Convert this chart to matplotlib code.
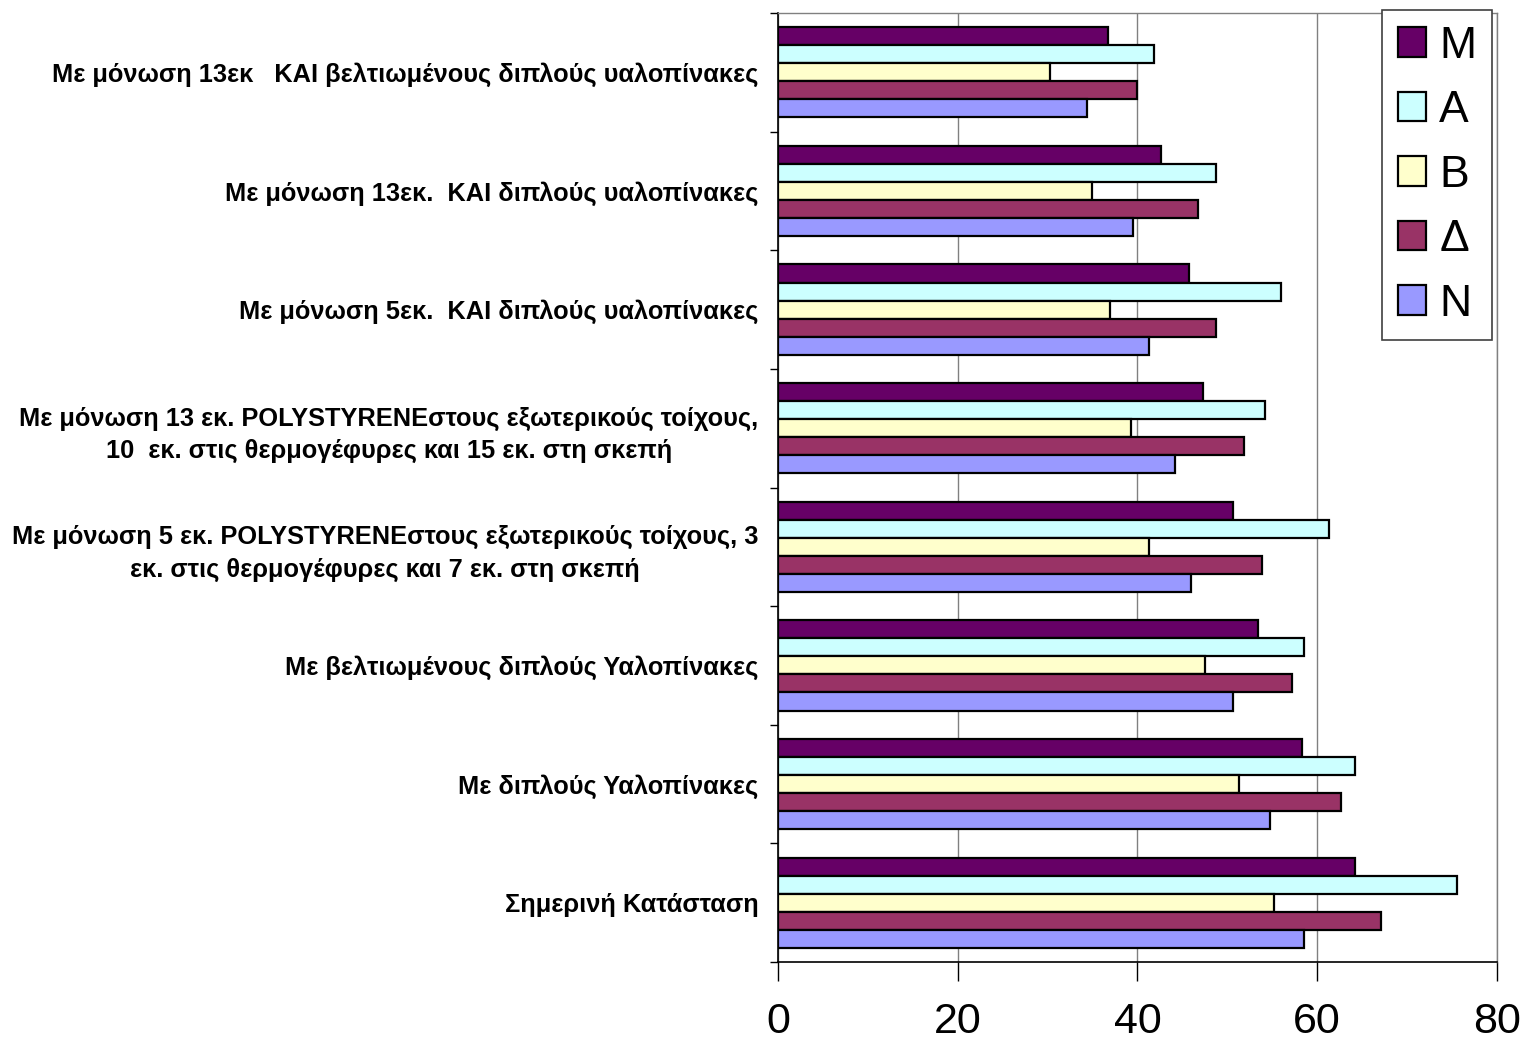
import matplotlib
matplotlib.use("Agg")
import matplotlib.pyplot as plt
from matplotlib.patches import Patch
import numpy as np

# Scenarios, listed top to bottom as they appear on the chart
categories = [
    "Με μόνωση 13εκ   ΚΑΙ βελτιωμένους διπλούς υαλοπίνακες",
    "Με μόνωση 13εκ.  ΚΑΙ διπλούς υαλοπίνακες",
    "Με μόνωση 5εκ.  ΚΑΙ διπλούς υαλοπίνακες",
    "Με μόνωση 13 εκ. POLYSTYRENEστους εξωτερικούς τοίχους,\n10  εκ. στις θερμογέφυρες και 15 εκ. στη σκεπή",
    "Με μόνωση 5 εκ. POLYSTYRENEστους εξωτερικούς τοίχους, 3\nεκ. στις θερμογέφυρες και 7 εκ. στη σκεπή",
    "Με βελτιωμένους διπλούς Υαλοπίνακες",
    "Με διπλούς Υαλοπίνακες",
    "Σημερινή Κατάσταση",
]

series_names = ["M", "A", "B", "Δ", "N"]

M_vals = [36.7, 42.6, 45.7, 47.3, 50.6, 53.4, 58.3, 64.2]
A_vals = [41.8, 48.7, 56.0, 54.2, 61.3, 58.5, 64.2, 75.6]
B_vals = [30.3, 34.9, 36.9, 39.3, 41.3, 47.5, 51.3, 55.2]
D_vals = [40.0, 46.7, 48.7, 51.8, 53.8, 57.2, 62.6, 67.1]
N_vals = [34.4, 39.5, 41.3, 44.2, 45.9, 50.6, 54.7, 58.5]

series_values = [M_vals, A_vals, B_vals, D_vals, N_vals]
colors = ["#660066", "#CCFFFF", "#FFFFCC", "#993366", "#9999FF"]

x_ticks = [0, 20, 40, 60, 80]

FAM = ["Liberation Sans", "DejaVu Sans"]

fig = plt.figure(figsize=(15.26, 10.44), dpi=100)
ax = fig.add_axes([778 / 1526, 1 - 962 / 1044, (1497 - 778) / 1526, (962 - 13) / 1044])

n_cat = len(categories)
n_ser = len(series_names)
bar_h = 0.76 / n_ser
centers = np.arange(n_cat)  # 0 at top after inversion

for i, (name, vals, col) in enumerate(zip(series_names, series_values, colors)):
    offs = -0.38 + bar_h * (i + 0.5)
    ax.barh(centers + offs, vals, height=bar_h, color=col,
            edgecolor="black", linewidth=1.6, label=name, zorder=3)

ax.set_ylim(n_cat - 0.5, -0.5)
ax.set_xlim(0, 80)

# vertical gridlines
ax.set_xticks(x_ticks)
ax.xaxis.grid(True, color="#808080", linewidth=1.0, zorder=0)
ax.yaxis.grid(False)

# category boundaries as major ticks, names as minor tick labels
ax.set_yticks(np.arange(-0.5, n_cat, 1.0))
ax.set_yticklabels([])
ax.tick_params(axis="y", which="major", direction="out", length=6, width=1.0, color="black")
ax.set_yticks(centers, minor=True)
ax.set_yticklabels(categories, minor=True, fontsize=18.3, fontweight="bold",
                   family=FAM, ha="right", multialignment="center",
                   linespacing=1.45)
ax.tick_params(axis="y", which="minor", length=0, pad=14)

ax.set_xticklabels([str(t) for t in x_ticks], fontsize=31, family=FAM)
ax.tick_params(axis="x", direction="out", length=14, width=1.0, color="black", pad=15)

for side in ["top", "right"]:
    ax.spines[side].set_color("#808080")
    ax.spines[side].set_linewidth(1.0)
for side in ["left", "bottom"]:
    ax.spines[side].set_color("black")
    ax.spines[side].set_linewidth(1.2)

handles = [Patch(facecolor=c, edgecolor="black", linewidth=1.6, label=n)
           for n, c in zip(series_names, colors)]
leg = fig.legend(handles=handles, loc="upper left",
                 bbox_to_anchor=(1382 / 1526, 1 - 10 / 1044),
                 borderaxespad=0, frameon=True, fancybox=False, framealpha=1,
                 edgecolor="#404040", handlelength=0.64, handleheight=0.64,
                 handletextpad=0.3, labelspacing=0.53, borderpad=0.35,
                 prop={"family": FAM, "size": 32})
leg.get_frame().set_linewidth(1.2)

fig.savefig("out.png", dpi=100, facecolor="white")
